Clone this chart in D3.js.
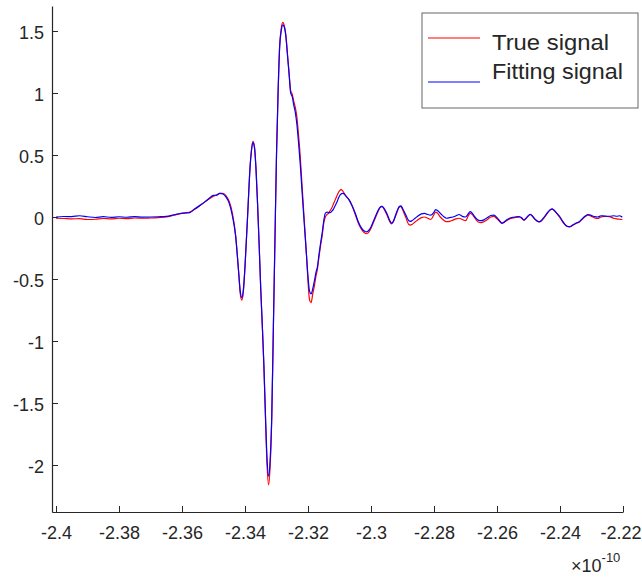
<!DOCTYPE html>
<html>
<head>
<meta charset="utf-8">
<script src="https://cdn.jsdelivr.net/npm/d3@7"></script>
<style>
  html, body { margin: 0; padding: 0; background: #fff; }
  svg { display: block; }
  text { font-family: "Liberation Sans", Arial, sans-serif; fill: #262626; }
</style>
</head>
<body>
<svg id="chart" width="642" height="577"></svg>
<script>
// time axis (units of 1e-10)
const time = [
  -2.4, -2.3975, -2.395, -2.3925, -2.39, -2.3875, -2.385, -2.3825, -2.38, -2.3775,
  -2.375, -2.3725, -2.37, -2.3675, -2.365, -2.3625, -2.36, -2.3575, -2.356, -2.354,
  -2.352, -2.35, -2.349, -2.348, -2.347, -2.346, -2.345, -2.344, -2.343, -2.342,
  -2.3415, -2.341, -2.3405, -2.34, -2.339, -2.3385, -2.338, -2.3375, -2.337, -2.3365,
  -2.336, -2.3355, -2.335, -2.3345, -2.334, -2.3335, -2.333, -2.3325, -2.332, -2.3315,
  -2.331, -2.3305, -2.33, -2.3295, -2.329, -2.3285, -2.328, -2.3275, -2.327, -2.3265,
  -2.326, -2.3255, -2.325, -2.3245, -2.324, -2.3235, -2.323, -2.3225, -2.322, -2.3215,
  -2.321, -2.3205, -2.32, -2.3195, -2.319, -2.3185, -2.318, -2.3175, -2.317, -2.3165,
  -2.316, -2.3155, -2.315, -2.3145, -2.314, -2.3135, -2.313, -2.3125, -2.312, -2.3115,
  -2.311, -2.3105, -2.31, -2.3095, -2.309, -2.3085, -2.308, -2.307, -2.306, -2.305,
  -2.304, -2.303, -2.302, -2.3015, -2.301, -2.3, -2.299, -2.298, -2.297, -2.2965,
  -2.296, -2.295, -2.294, -2.2935, -2.293, -2.292, -2.291, -2.2905, -2.29, -2.289,
  -2.288, -2.2875, -2.287, -2.286, -2.285, -2.284, -2.283, -2.282, -2.281, -2.28,
  -2.2795, -2.279, -2.278, -2.277, -2.276, -2.275, -2.274, -2.273, -2.272, -2.271,
  -2.27, -2.269, -2.2685, -2.268, -2.267, -2.266, -2.265, -2.264, -2.263, -2.262,
  -2.261, -2.26, -2.259, -2.2585, -2.258, -2.257, -2.256, -2.255, -2.254, -2.253,
  -2.252, -2.2515, -2.251, -2.25, -2.2495, -2.249, -2.248, -2.247, -2.2465, -2.246,
  -2.245, -2.244, -2.243, -2.2425, -2.242, -2.241, -2.24, -2.239, -2.238, -2.237,
  -2.236, -2.235, -2.234, -2.233, -2.232, -2.231, -2.23, -2.229, -2.228, -2.227,
  -2.226, -2.225, -2.224, -2.223, -2.222, -2.221, -2.2205, -2.2202
];

const trueSignal = [
  -0.010, -0.012, -0.015, -0.013, -0.020, -0.018, -0.012, -0.015, -0.010, -0.013,
  -0.008, -0.010, -0.008, -0.005, 0.000, 0.015, 0.028, 0.040, 0.062, 0.098,
  0.135, 0.168, 0.178, 0.190, 0.190, 0.170, 0.125, 0.030, -0.140, -0.450,
  -0.620, -0.670, -0.600, -0.400, 0.100, 0.360, 0.530, 0.610, 0.570, 0.390,
  0.100, -0.230, -0.580, -0.880, -1.200, -1.620, -2.000, -2.160, -2.000, -1.620,
  -0.900, -0.200, 0.500, 1.000, 1.380, 1.520, 1.570, 1.540, 1.460, 1.310,
  1.160, 1.020, 0.990, 0.930, 0.880, 0.800, 0.660, 0.500, 0.300, 0.100,
  -0.100, -0.300, -0.520, -0.670, -0.690, -0.620, -0.560, -0.480, -0.420, -0.320,
  -0.230, -0.150, -0.050, 0.000, 0.020, 0.030, 0.050, 0.070, 0.100, 0.130,
  0.160, 0.190, 0.210, 0.220, 0.210, 0.190, 0.170, 0.140, 0.090, 0.020,
  -0.050, -0.100, -0.130, -0.135, -0.130, -0.090, -0.030, 0.030, 0.080, 0.085,
  0.070, 0.020, -0.040, -0.055, -0.040, 0.020, 0.080, 0.085, 0.060, 0.000,
  -0.060, -0.065, -0.060, -0.040, -0.020, -0.005, 0.000, -0.010, -0.020, 0.020,
  0.040, 0.035, 0.000, -0.025, -0.038, -0.035, -0.025, -0.015, -0.010, -0.020,
  -0.030, 0.015, 0.030, 0.025, -0.010, -0.040, -0.045, -0.035, -0.020, 0.000,
  0.005, -0.015, -0.040, -0.050, -0.048, -0.030, -0.015, -0.008, -0.004, 0.000,
  -0.015, -0.026, -0.018, 0.010, 0.020, 0.012, -0.018, -0.038, -0.040, -0.033,
  -0.005, 0.030, 0.058, 0.063, 0.055, 0.028, -0.005, -0.045, -0.072, -0.080,
  -0.068, -0.052, -0.042, -0.020, 0.003, 0.015, 0.005, -0.008, -0.012, 0.000,
  0.005, 0.004, 0.000, -0.010, -0.015, -0.018, -0.020, -0.020
];

const fittingSignal = [
  0.000, 0.004, 0.003, 0.010, 0.002, -0.004, 0.003, -0.003, 0.002, -0.002,
  0.003, -0.001, 0.000, 0.002, 0.005, 0.018, 0.032, 0.036, 0.065, 0.098,
  0.137, 0.175, 0.176, 0.190, 0.185, 0.160, 0.110, 0.010, -0.150, -0.450,
  -0.600, -0.650, -0.580, -0.400, 0.100, 0.360, 0.520, 0.600, 0.560, 0.380,
  0.100, -0.230, -0.580, -0.880, -1.200, -1.600, -1.950, -2.090, -1.950, -1.600,
  -0.900, -0.200, 0.500, 1.000, 1.370, 1.500, 1.550, 1.530, 1.450, 1.300,
  1.150, 1.000, 0.970, 0.900, 0.840, 0.740, 0.600, 0.440, 0.250, 0.060,
  -0.120, -0.300, -0.480, -0.600, -0.620, -0.580, -0.520, -0.450, -0.400, -0.300,
  -0.210, -0.130, -0.030, 0.030, 0.040, 0.035, 0.035, 0.045, 0.060, 0.085,
  0.110, 0.140, 0.170, 0.185, 0.190, 0.185, 0.170, 0.140, 0.090, 0.030,
  -0.040, -0.090, -0.115, -0.120, -0.115, -0.080, -0.020, 0.040, 0.080, 0.085,
  0.075, 0.030, -0.030, -0.050, -0.040, 0.030, 0.085, 0.090, 0.070, 0.020,
  -0.030, -0.035, -0.030, -0.010, 0.010, 0.025, 0.030, 0.020, 0.015, 0.040,
  0.060, 0.055, 0.030, 0.005, -0.010, -0.005, 0.000, 0.010, 0.020, 0.005,
  0.000, 0.030, 0.043, 0.035, 0.000, -0.025, -0.030, -0.020, -0.005, 0.012,
  0.015, -0.005, -0.035, -0.050, -0.045, -0.025, -0.010, -0.003, 0.002, 0.003,
  -0.010, -0.024, -0.015, 0.012, 0.022, 0.015, -0.015, -0.035, -0.038, -0.030,
  0.000, 0.035, 0.060, 0.065, 0.058, 0.030, 0.000, -0.040, -0.070, -0.078,
  -0.065, -0.050, -0.040, -0.015, 0.008, 0.020, 0.012, 0.003, 0.000, 0.010,
  0.008, 0.006, 0.006, 0.010, 0.006, 0.010, 0.003, 0.000
];

const xTicks = [-2.4, -2.38, -2.36, -2.34, -2.32, -2.3, -2.28, -2.26, -2.24, -2.22];
const xTickLabels = ["-2.4", "-2.38", "-2.36", "-2.34", "-2.32", "-2.3", "-2.28", "-2.26", "-2.24", "-2.22"];
const yTicks = [-2, -1.5, -1, -0.5, 0, 0.5, 1, 1.5];
const yTickLabels = ["-2", "-1.5", "-1", "-0.5", "0", "0.5", "1", "1.5"];
const seriesNames = ["True signal", "Fitting signal"];
const seriesColors = ["#ff0000", "#0000ff"];

const svg = d3.select("#chart");
const x = d3.scaleLinear().domain([-2.40127, -2.22]).range([52, 623]);
const y = d3.scaleLinear().domain([-2.379, 1.7016]).range([512, 6]);

// axes
const xAxis = d3.axisBottom(x).tickValues(xTicks)
  .tickFormat((d, i) => xTickLabels[i]).tickSizeInner(-6).tickSizeOuter(0).tickPadding(14);
const yAxis = d3.axisLeft(y).tickValues(yTicks)
  .tickFormat((d, i) => yTickLabels[i]).tickSizeInner(-6).tickSizeOuter(0).tickPadding(8);

const gx = svg.append("g").attr("transform", "translate(0,512)").call(xAxis);
const gy = svg.append("g").attr("transform", "translate(52,0)").call(yAxis);
[gx, gy].forEach(g => {
  g.select(".domain").attr("stroke", "#262626").attr("stroke-width", 1.2);
  g.selectAll(".tick line").attr("stroke", "#262626").attr("stroke-width", 1);
  g.selectAll(".tick text").attr("fill", "#262626")
    .style("font-size", "18px").style("font-family", "'Liberation Sans', Arial, sans-serif");
});
gy.selectAll(".tick text").attr("dy", "0.42em");
// keep the last x label inside the frame, as in the reference
gx.selectAll(".tick text").filter((d, i) => i === xTicks.length - 1).attr("dx", -2.5);

// exponent label
const expo = svg.append("text").attr("x", 571).attr("y", 572)
  .style("font-size", "18px");
expo.append("tspan").text("\u00d710");
expo.append("tspan").attr("dy", -10).style("font-size", "13px").text("-10");

// lines
const series = [trueSignal, fittingSignal];
const line = d3.line()
  .x((d, i) => x(time[i]))
  .y(d => y(d))
  .curve(d3.curveMonotoneX);

series.forEach((s, k) => {
  svg.append("path")
    .datum(s)
    .attr("fill", "none")
    .attr("stroke", seriesColors[k])
    .attr("stroke-width", 1.2)
    .attr("stroke-linejoin", "round")
    .attr("d", line);
});

// legend
const lg = svg.append("g");
lg.append("rect").attr("x", 422).attr("y", 13).attr("width", 216).attr("height", 95)
  .attr("fill", "#fff").attr("stroke", "#666").attr("stroke-width", 1);
const legendLineY = [38, 82];
const legendTextY = [50, 79];
const legendTextLen = [117, 131];
seriesNames.forEach((name, k) => {
  lg.append("line").attr("x1", 428).attr("x2", 480)
    .attr("y1", legendLineY[k]).attr("y2", legendLineY[k])
    .attr("stroke", seriesColors[k]).attr("stroke-width", 1.2);
  lg.append("text").attr("x", 492).attr("y", legendTextY[k])
    .style("font-size", "22px")
    .attr("textLength", legendTextLen[k]).attr("lengthAdjust", "spacingAndGlyphs")
    .attr("fill", "#000")
    .text(name);
});
</script>
</body>
</html>
